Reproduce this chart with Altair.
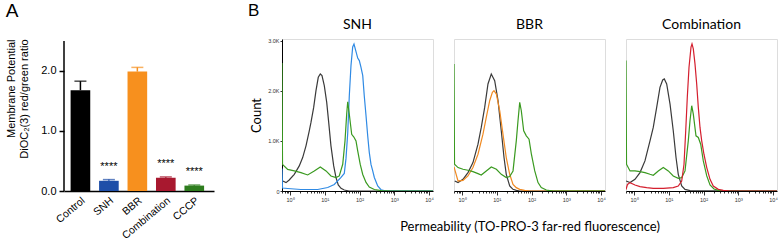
import altair as alt
import pandas as pd

# ---------------- Panel A data ----------------
groups = ["Control", "SNH", "BBR", "Combination", "CCCP"]
ratio_mean = [1.68, 0.17, 1.99, 0.22, 0.09]
ratio_err = [0.15, 0.02, 0.07, 0.015, 0.01]
signif = ["", "****", "", "****", "****"]
bar_colors = ["#000000", "#1f4fa8", "#f7901e", "#a8182f", "#2e7d1e"]
y_ticks_a = [0, 0.5, 1.0, 1.5, 2.0, 2.5]

# ---------------- Panel B data (fluorescence, count) ----------------
snh_control_x = [0.62, 0.77, 0.95, 1.33, 1.85, 2.32, 2.89, 3.59, 4.02, 4.81, 5.6, 6.52, 7.45, 8.34, 9.71, 11.4, 13.0, 15.1, 18.1, 21.1, 24.5, 29.4, 36.5, 50, 13000]
snh_control_y = [200, 167, 220, 333, 500, 667, 900, 1200, 1367, 1667, 2000, 2267, 2333, 2300, 2100, 1767, 1367, 900, 500, 267, 120, 53, 20, 0, 0]

snh_cccp_x = [0.59, 0.61, 0.86, 1.33, 2.07, 3.23, 5.0, 7.45, 10.9, 15.1, 21.1, 26.2, 32.9, 38.3, 42.8, 45.8, 50.9, 59.6, 68.1, 79.3, 88.8, 105, 124, 154, 191, 267, 416, 806, 13000]
snh_cccp_y = [2550, 530, 430, 400, 367, 320, 400, 480, 400, 300, 267, 300, 533, 1000, 1533, 1780, 1530, 1130, 1080, 1000, 800, 530, 330, 170, 80, 30, 10, 0, 0]

snh_snh_x = [0.59, 0.61, 0.86, 2.07, 6.27, 12.2, 18.8, 29.4, 36.5, 40.9, 45.8, 50.9, 56.9, 63.7, 69.5, 79.3, 88.8, 98.7, 110, 124, 137, 154, 172, 191, 214, 240, 267, 334, 416, 580, 13000]
snh_snh_y = [450, 60, 50, 30, 30, 70, 130, 270, 350, 650, 1150, 1900, 2500, 2870, 2930, 2780, 2650, 2600, 2470, 2300, 1900, 1500, 1100, 770, 530, 400, 270, 100, 25, 0, 0]

bbr_control_x = [0.62, 0.77, 1.07, 1.49, 2.07, 2.89, 3.59, 4.5, 5.6, 6.97, 8.73, 10.9, 13.5, 16.2, 18.8, 23.6, 29.4, 36.5, 45.8, 13000]
bbr_control_y = [200, 167, 233, 367, 567, 933, 1267, 1667, 2133, 2333, 2200, 1800, 1200, 667, 333, 100, 33, 13, 0, 0]

bbr_bbr_x = [0.59, 0.77, 1.07, 1.49, 2.07, 2.89, 4.02, 5.0, 6.27, 7.5, 8.34, 9.77, 12.2, 15.1, 18.8, 23.6, 29.4, 36.5, 45.8, 63.7, 88.8, 13000]
bbr_bbr_y = [480, 200, 213, 300, 467, 733, 1133, 1467, 1800, 1967, 2000, 1933, 1600, 1133, 667, 333, 133, 67, 33, 13, 0, 0]

bbr_cccp_x = [0.59, 0.61, 0.77, 1.07, 1.49, 2.07, 2.89, 3.59, 5.0, 6.97, 9.77, 13.5, 18.8, 23.6, 29.4, 36.5, 40.9, 45.8, 50.9, 59.6, 70.9, 84.9, 99.3, 124, 154, 191, 267, 416, 13000]
bbr_cccp_y = [2533, 533, 467, 433, 413, 387, 347, 320, 400, 480, 433, 333, 267, 287, 400, 1000, 1400, 1767, 1600, 1200, 1100, 1033, 733, 400, 167, 67, 20, 0, 0]

comb_control_x = [0.59, 0.77, 1.07, 1.49, 2.07, 2.89, 3.59, 4.5, 5.6, 6.7, 7.45, 8.73, 10.9, 13.5, 16.2, 18.8, 23.6, 29.4, 40.9, 13000]
comb_control_y = [200, 167, 233, 367, 600, 1000, 1267, 1667, 2067, 2213, 2233, 2133, 1733, 1200, 667, 333, 100, 33, 7, 0]

comb_cccp_x = [0.59, 0.61, 0.77, 1.07, 1.49, 2.07, 2.89, 3.59, 5.0, 6.97, 9.71, 13.5, 18.8, 23.6, 29.4, 36.5, 40.9, 45.8, 50.9, 60.8, 70.9, 83.1, 98.7, 124, 154, 201, 267, 371, 13000]
comb_cccp_y = [2600, 533, 400, 400, 387, 367, 333, 313, 400, 467, 400, 300, 253, 267, 400, 1000, 1400, 1700, 1533, 1100, 1067, 933, 600, 300, 120, 40, 13, 0, 0]

comb_comb_x = [0.59, 0.65, 0.77, 1.07, 1.49, 2.32, 3.59, 6.97, 13.5, 18.8, 23.6, 27.5, 30.8, 34.2, 38.3, 43.7, 46.7, 50.9, 56.9, 63.7, 70.9, 79.3, 88.8, 103, 124, 154, 191, 267, 371, 579, 13000]
comb_comb_y = [30, 130, 167, 120, 87, 67, 53, 53, 67, 100, 200, 533, 1200, 1867, 2467, 2867, 2933, 2833, 2533, 2133, 1667, 1267, 1000, 733, 467, 233, 100, 33, 13, 0, 0]

line_colors = {"Control": "#3a3a3a", "SNH": "#2f8ae4", "BBR": "#f08a22",
               "Combination": "#d41f2e", "CCCP": "#3a9a20"}

x_major = [1, 10, 100, 1000, 10000]
x_major_labels = ["10⁰", "10¹", "10²", "10³", "10⁴"]
y_ticks_b = [0, 1000, 2000, 3000]
y_tick_labels_b = ["0", "1.0K", "2.0K", "3.0K"]

FONT = "Liberation Sans"
TFONT = "Lato"

# ---------------- Panel A chart ----------------
df_a = pd.DataFrame({"group": groups, "mean": ratio_mean, "err": ratio_err,
                     "signif": signif})
base_a = alt.Chart(df_a).transform_calculate(top="datum.mean + datum.err")
xa = alt.X("group:N", sort=groups,
           scale=alt.Scale(paddingInner=0.31, paddingOuter=0.29, align=0.4),
           axis=alt.Axis(title=None, labelAngle=-40, labelFont=FONT, labelFontSize=10.5,
                         labelColor="#000", ticks=False, labelPadding=4,
                         domainColor="#000", domainWidth=1.5))
ya = alt.Y("mean:Q", scale=alt.Scale(domain=[0, 2.533], nice=False),
           axis=alt.Axis(values=y_ticks_a, format=".1f", grid=False,
                         title=["Membrane Potential", "DiOC₂(3) red/green ratio"],
                         titleFont=FONT, titleFontSize=11, titleFontWeight="normal",
                         titleAnchor="end", titlePadding=11, titleColor="#000",
                         labelFont=FONT, labelFontSize=11, labelColor="#000",
                         tickSize=5, tickWidth=1.5, tickColor="#000",
                         domain=False, labelPadding=3))
col_a = alt.Color("group:N", scale=alt.Scale(domain=groups, range=bar_colors), legend=None)

bars = base_a.mark_bar().encode(x=xa, y=ya, color=col_a)
err_rule = base_a.mark_rule(strokeWidth=1.5).encode(x=xa, y="mean:Q", y2="top:Q", color=col_a)
err_cap = base_a.mark_tick(orient="horizontal", size=12, thickness=1.5).encode(
    x=xa, y="top:Q", color=col_a)
stars = base_a.mark_text(dy=-10, fontSize=11, font=FONT, baseline="alphabetic",
                         color="#000").encode(x=xa, y="top:Q", text="signif:N")
# y axis line from 0 to 2.5 only
yline = alt.Chart(pd.DataFrame({"lo": [0], "hi": [2.5]})).mark_rule(
    color="#000", strokeWidth=1.5).encode(x=alt.value(0), y="lo:Q", y2="hi:Q")

chart_a = alt.layer(bars, err_rule, err_cap, stars, yline).properties(
    width=150, height=152,
    view=alt.ViewBackground(stroke="transparent"),
    title=alt.TitleParams("A", anchor="start", frame="bounds", font=FONT, fontSize=19,
                          fontWeight="normal", offset=18, color="#000"))

# ---------------- Panel B charts ----------------
rows = []
def add(panel, series, xs, ys):
    for xv, yv in zip(xs, ys):
        rows.append({"panel": panel, "series": series, "x": xv, "count": yv})

add("SNH", "Control", snh_control_x, snh_control_y)
add("SNH", "SNH", snh_snh_x, snh_snh_y)
add("SNH", "CCCP", snh_cccp_x, snh_cccp_y)
add("BBR", "Control", bbr_control_x, bbr_control_y)
add("BBR", "BBR", bbr_bbr_x, bbr_bbr_y)
add("BBR", "CCCP", bbr_cccp_x, bbr_cccp_y)
add("Combination", "Control", comb_control_x, comb_control_y)
add("Combination", "CCCP", comb_cccp_x, comb_cccp_y)
add("Combination", "Combination", comb_comb_x, comb_comb_y)
df_b = pd.DataFrame(rows)

x_minor = [k * 10 ** d for d in range(-1, 4) for k in range(2, 10)
           if 0.59 <= k * 10 ** d <= 13000]
major_test = "indexof([" + ",".join(str(v) for v in x_major) + "], datum.value) >= 0"
x_label_expr = " : ".join(f"datum.value == {v} ? '{l}'" for v, l in zip(x_major, x_major_labels)) + " : ''"
y_label_expr = " : ".join(f"datum.value == {v} ? '{l}'" for v, l in zip(y_ticks_b, y_tick_labels_b)) + " : ''"

order = {"SNH": ["Control", "SNH", "CCCP"],
         "BBR": ["Control", "BBR", "CCCP"],
         "Combination": ["Control", "CCCP", "Combination"]}

def panel_chart(panel, show_y, xtitle):
    xaxis = alt.Axis(values=x_major + x_minor, labelExpr=x_label_expr, grid=False,
                     labelFont=FONT, labelFontSize=5.5, labelColor="#333",
                     labelOverlap=False, labelFlush=False, labelPadding=2,
                     tickSize={"condition": {"test": major_test, "value": 4}, "value": 2},
                     tickColor="#000", tickWidth=0.8, domainColor="#000", domainWidth=1,
                     title=xtitle, titleFont=TFONT, titleFontSize=13,
                     titleFontWeight="normal", titleColor="#000", titlePadding=18)
    xenc = alt.X("x:Q", scale=alt.Scale(type="log", domain=[0.59, 13000], nice=False),
                 axis=xaxis)
    if show_y:
        yaxis = alt.Axis(values=y_ticks_b, labelExpr=y_label_expr, grid=False,
                         labelFont=FONT, labelFontSize=5.5, labelColor="#333",
                         tickSize=2, tickColor="#000", tickWidth=0.8,
                         domainColor="#000", domainWidth=1, labelPadding=1,
                         title="Count", titleFont=TFONT, titleFontSize=13,
                         titleFontWeight="normal", titleColor="#000", titlePadding=4)
    else:
        yaxis = None
    yenc = alt.Y("count:Q", scale=alt.Scale(domain=[0, 3030], nice=False), axis=yaxis)
    layers = []
    for s in order[panel]:
        layers.append(
            alt.Chart(df_b)
            .transform_filter(f"datum.panel == '{panel}' && datum.series == '{s}'")
            .mark_line(color=line_colors[s], strokeWidth=1.2, clip=True)
            .encode(x=xenc, y=yenc)
        )
    return alt.layer(*layers).properties(
        width=151, height=152,
        title=alt.TitleParams(panel, font=TFONT, fontSize=14, fontWeight="normal",
                              frame="group", offset=7, color="#000"))

b1 = panel_chart("SNH", True, None)
b2 = panel_chart("BBR", False, "Permeability (TO-PRO-3 far-red fluorescence)")
b3 = panel_chart("Combination", False, None)

# invisible spacer column that also carries the panel letter "B"
spacer = alt.Chart(pd.DataFrame({"t": ["B"]})).mark_text(
    font=FONT, fontSize=17, align="left", baseline="alphabetic", color="#000"
).encode(x=alt.value(13), y=alt.value(-23), text="t:N").properties(
    width=26, height=152, view=alt.ViewBackground(stroke="transparent"))

chart = alt.hconcat(chart_a, spacer, b1, b2, b3, spacing=21, bounds="flush").properties(
    padding={"left": 5, "top": 1, "right": 0, "bottom": 0}
).configure_view(stroke="#666", strokeWidth=1).configure(background="white")

chart.save("out.html", embed_options={"renderer": "svg", "actions": False})
